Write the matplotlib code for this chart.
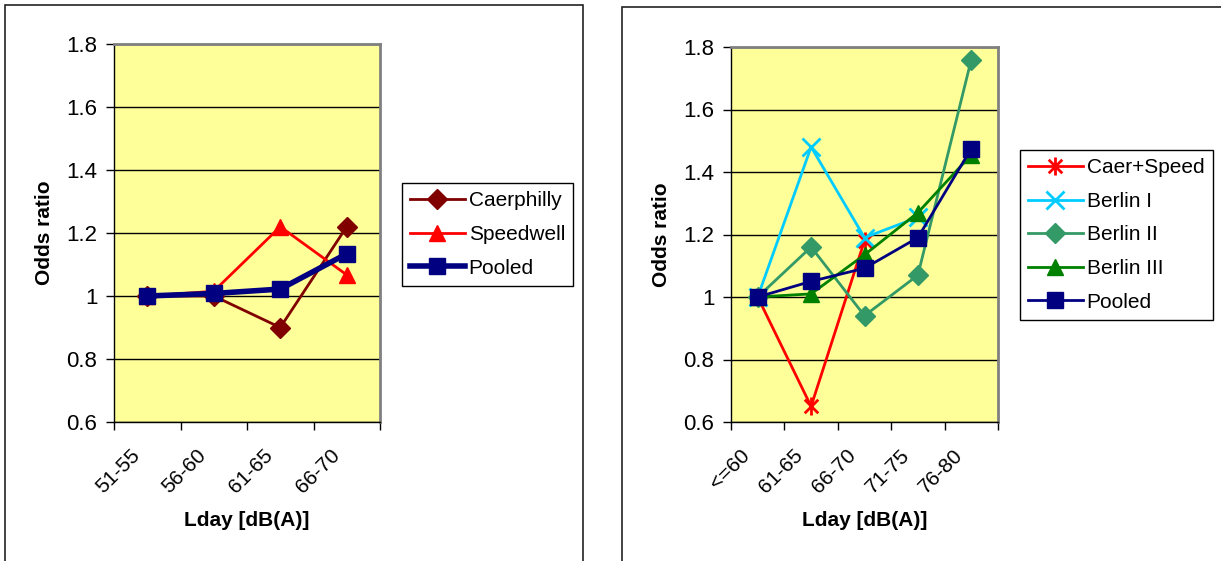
import matplotlib.pyplot as plt
from matplotlib.patches import Rectangle
from matplotlib.path import Path

# left panel: Caerphilly / Speedwell
left_cats = ["51-55", "56-60", "61-65", "66-70"]
caerphilly = [1.00, 1.00, 0.90, 1.22]
speedwell = [1.00, 1.015, 1.22, 1.067]
pooled_left = [1.00, 1.008, 1.022, 1.134]

# right panel: combined + Berlin studies
right_cats = ["<=60", "61-65", "66-70", "71-75", "76-80"]
caer_speed = [1.00, 0.65, 1.18]
berlin1 = [1.00, 1.48, 1.19, 1.255]
berlin2 = [1.00, 1.16, 0.94, 1.07, 1.76]
berlin3 = [1.00, 1.01, 1.135, 1.27, 1.455]
pooled_right = [1.00, 1.05, 1.092, 1.19, 1.475]

W, H = 1221, 561
plt.rcParams["font.family"] = ["Liberation Sans", "DejaVu Sans"]
FS = 15

# asterisk marker like Excel's star: vertical bar plus an X
star = Path(
    [(0, -1), (0, 1), (-0.75, -0.75), (0.75, 0.75), (-0.75, 0.75), (0.75, -0.75)],
    [Path.MOVETO, Path.LINETO, Path.MOVETO, Path.LINETO, Path.MOVETO, Path.LINETO],
)

fig = plt.figure(figsize=(W / 100, H / 100), dpi=100)


def px_box(x0, y0, x1, y1):
    return [x0 / W, 1 - y1 / H, (x1 - x0) / W, (y1 - y0) / H]


# outer chart frames
for x0, y0, x1, y1 in [(4.5, 5, 583, 570), (622, 7, 1230, 570)]:
    fig.patches.append(
        Rectangle((x0 / W, 1 - y1 / H), (x1 - x0) / W, (y1 - y0) / H,
                  transform=fig.transFigure, fill=False, edgecolor="#222222",
                  linewidth=1.2, zorder=0)
    )


def style_axes(ax, cats, width_px, shift_px):
    n = len(cats)
    ax.set_facecolor("#FFFF99")
    ax.set_xlim(0, n)
    ax.set_ylim(0.6, 1.8)
    ax.set_yticks([0.6, 0.8, 1.0, 1.2, 1.4, 1.6, 1.8])
    ax.set_yticklabels(["0.6", "0.8", "1", "1.2", "1.4", "1.6", "1.8"], fontsize=16)
    ax.yaxis.grid(True, color="black", linewidth=1.0)
    ax.set_axisbelow(True)
    ax.set_xticks(range(n + 1))
    ax.set_xticklabels([])
    # rotated labels end a little left of each category centre
    shift = shift_px / (width_px / n)
    ax.set_xticks([i + 0.5 - shift for i in range(n)], minor=True)
    ax.set_xticklabels(cats, minor=True, fontsize=FS, rotation=45,
                       ha="right", va="top", rotation_mode="anchor")
    ax.tick_params(axis="x", which="minor", length=0, pad=17)
    ax.tick_params(axis="x", which="major", direction="out", length=6, width=1)
    ax.tick_params(axis="y", direction="out", length=6, width=1, pad=6)
    for s in ["left", "bottom"]:
        ax.spines[s].set_color("black")
        ax.spines[s].set_linewidth(1.0)
    for s in ["top", "right"]:
        ax.spines[s].set_color("#808080")
        ax.spines[s].set_linewidth(2.0)
    ax.set_ylabel("Odds ratio", fontsize=FS, fontweight="bold", labelpad=9)
    ax.set_xlabel("Lday [dB(A)]", fontsize=FS, fontweight="bold", labelpad=10)


legend_kw = dict(loc="upper left", fontsize=FS, frameon=True, fancybox=False,
                 edgecolor="black", framealpha=1, borderaxespad=0,
                 handlelength=2.6, handletextpad=0.2, labelspacing=0.7,
                 borderpad=0.4)

# ---- left chart
ax1 = fig.add_axes(px_box(114, 44, 380, 422))
style_axes(ax1, left_cats, 266, 17)
xl = [i + 0.5 for i in range(len(left_cats))]
ax1.plot(xl, caerphilly, color="#800000", lw=2, marker="D", ms=10,
         label="Caerphilly", clip_on=False)
ax1.plot(xl, speedwell, color="#FF0000", lw=2, marker="^", ms=12,
         label="Speedwell", clip_on=False)
ax1.plot(xl, pooled_left, color="#000080", lw=4, marker="s", ms=11,
         label="Pooled", clip_on=False)
leg1 = ax1.legend(bbox_to_anchor=(402 / W, 1 - 183 / H),
                  bbox_transform=fig.transFigure, **legend_kw)
leg1.get_frame().set_linewidth(1.0)

# ---- right chart
ax2 = fig.add_axes(px_box(731, 47, 998, 422))
style_axes(ax2, right_cats, 267, 18)
xr = [i + 0.5 for i in range(len(right_cats))]
ax2.plot(xr[:len(caer_speed)], caer_speed, color="#FF0000", lw=2, marker=star,
         ms=13, mew=2, label="Caer+Speed", clip_on=False)
ax2.plot(xr[:len(berlin1)], berlin1, color="#00CCFF", lw=2, marker="x",
         ms=13, mew=2, label="Berlin I", clip_on=False)
ax2.plot(xr, berlin2, color="#339966", lw=2, marker="D", ms=10,
         label="Berlin II", clip_on=False)
ax2.plot(xr, berlin3, color="#008000", lw=2, marker="^", ms=12,
         label="Berlin III", clip_on=False)
ax2.plot(xr, pooled_right, color="#000080", lw=2, marker="s", ms=11,
         label="Pooled", clip_on=False)
leg2 = ax2.legend(bbox_to_anchor=(1020 / W, 1 - 150 / H),
                  bbox_transform=fig.transFigure, **legend_kw)
leg2.get_frame().set_linewidth(1.0)

fig.savefig("out.png", dpi=100, facecolor="white")
